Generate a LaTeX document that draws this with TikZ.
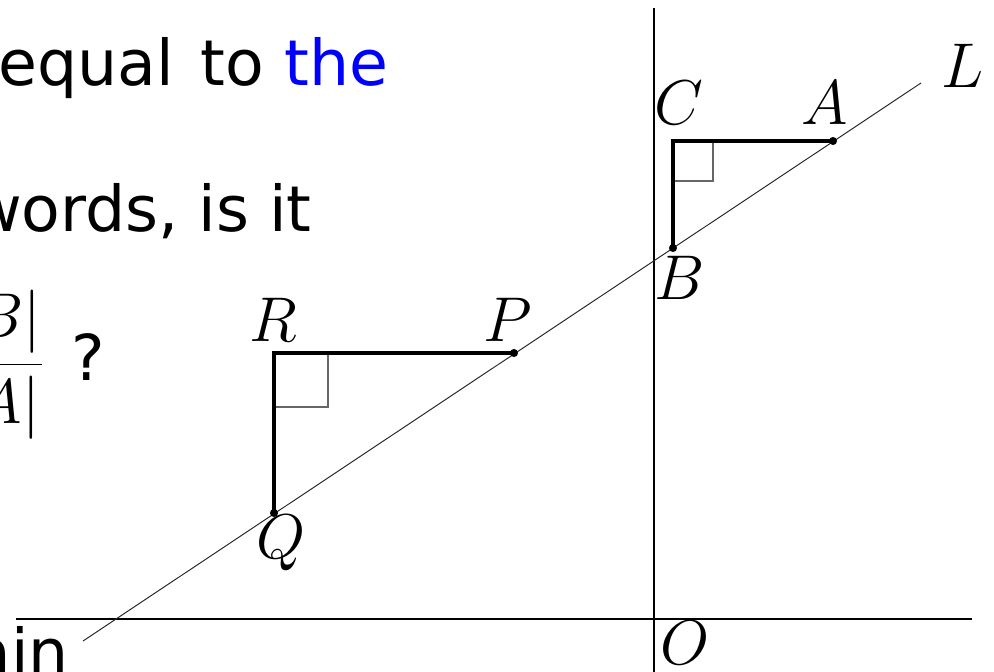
\documentclass[tikz,border=0pt]{standalone}
\usepackage{fix-cm}
\usepackage{fontspec}
\setmainfont{DejaVu Sans}
\usetikzlibrary{positioning}
\definecolor{SlideBlue}{RGB}{0,0,255}

\begin{document}
\begin{tikzpicture}[x=0.02cm, y=-0.02cm,
  slidetext/.style={font=\fontsize{36}{43}\selectfont, inner sep=0pt},
  ptlabel/.style={font=\fontsize{36}{43}\selectfont, inner sep=0pt},
  axisline/.style={line width=0.6pt, black},
  lineL/.style={line width=0.55pt, black!85},
  legs/.style={line width=2.2pt, black, line join=miter},
  rightmark/.style={line width=0.6pt, black!60},
  ptdot/.style={fill=black}]

\def\sqC{40}   % right-angle box at C
\def\sqR{54}   % right-angle box at R
\def\dotr{2.3pt}

\useasboundingbox (0,0) rectangle (994,672);
\clip (0,0) rectangle (994,672);

% Slide text (cut by the frame)
\node[slidetext, anchor=base west] (lineone) at (-2,86) {equal\hspace{4pt} to \textcolor{SlideBlue}{the}};
\node[slidetext, anchor=base east] (linetwo) at (312,232) {words, is it};
\node[slidetext, anchor=base east] (ratio) at (44,380) {$\displaystyle\frac{|B|}{|A|}$};
\node[slidetext, anchor=base west] (qmark) at (71,380) {?};
\node[slidetext, anchor=base east] (linefour) at (69,674) {ain};

% --- Axes and line L ---
\coordinate (xleft) at (16,619);
\coordinate (xright) at (972,619);
\coordinate (ytop) at (654,8);
\coordinate (ybot) at (654,690);
\coordinate (Lstart) at (83,641);
\coordinate (Lend) at (921,83);
\draw[axisline] (xleft) -- (xright);
\draw[axisline] (ytop) -- (ybot);
\draw[lineL] (Lstart) -- (Lend);

% --- Points ---
\coordinate (A) at (833,141);
\coordinate (C) at (673,141);
\coordinate (B) at (673,248);
\coordinate (P) at (514,353);
\coordinate (R) at (274,353);
\coordinate (Q) at (274,513);

% Right-angle boxes
\draw[rightmark] (C) ++(\sqC,0) -- ++(0,\sqC) -- ++(-\sqC,0);
\draw[rightmark] (R) ++(\sqR,0) -- ++(0,\sqR) -- ++(-\sqR,0);

% Triangles
\draw[legs] (A) -- (C) -- (B);
\draw[legs] (P) -- (R) -- (Q);

\fill[ptdot] (A) circle (\dotr);
\fill[ptdot] (B) circle (\dotr);
\fill[ptdot] (P) circle (\dotr);
\fill[ptdot] (Q) circle (\dotr);

% Labels
\node[ptlabel] (labA) at (825,103) {$A$};
\node[ptlabel] (labC) at (679,103) {$C$};
\node[ptlabel] (labB) at (680,278) {$B$};
\node[ptlabel] (labL) at (963,66) {$L$};
\node[ptlabel] (labP) at (508,320) {$P$};
\node[ptlabel] (labR) at (273,320) {$R$};
\node[ptlabel] (labQ) at (281,543) {$Q$};
\node[ptlabel] (labO) at (685,643) {$O$};

\end{tikzpicture}
\end{document}
